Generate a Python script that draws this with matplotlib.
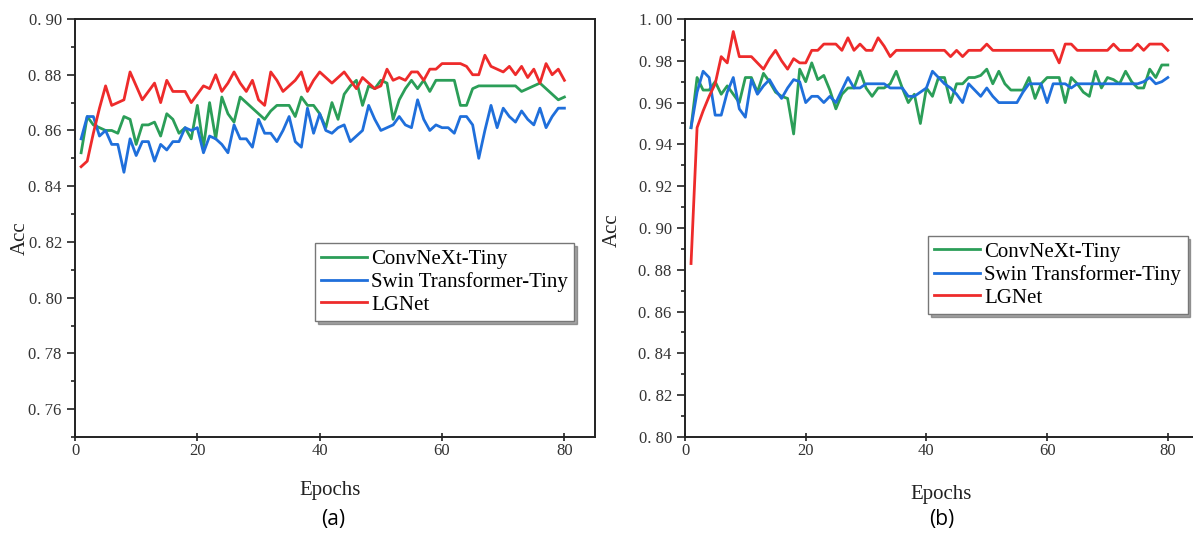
#!/usr/bin/env python
"""Validation accuracy curves of ConvNeXt-Tiny, Swin Transformer-Tiny and
LGNet on two datasets, panels (a) and (b)."""
import matplotlib
matplotlib.use('Agg')
import matplotlib.pyplot as plt
from matplotlib.ticker import MultipleLocator, FuncFormatter


# Data

epochs = list(range(1, 81))

# panel (a)
a_convnext = [0.852, 0.865, 0.862, 0.861, 0.860, 0.860, 0.859, 0.865, 0.864, 0.855,
              0.862, 0.862, 0.863, 0.858, 0.866, 0.864, 0.859, 0.861, 0.857, 0.869,
              0.854, 0.870, 0.857, 0.872, 0.866, 0.863, 0.872, 0.870, 0.868, 0.866,
              0.864, 0.867, 0.869, 0.869, 0.869, 0.865, 0.872, 0.869, 0.869, 0.866,
              0.861, 0.870, 0.864, 0.873, 0.876, 0.878, 0.869, 0.876, 0.875, 0.878,
              0.877, 0.864, 0.871, 0.875, 0.878, 0.875, 0.878, 0.874, 0.878, 0.878,
              0.878, 0.878, 0.869, 0.869, 0.875, 0.876, 0.876, 0.876, 0.876, 0.876,
              0.876, 0.876, 0.874, 0.875, 0.876, 0.877, 0.875, 0.873, 0.871, 0.872]
a_swin = [0.857, 0.865, 0.865, 0.858, 0.860, 0.855, 0.855, 0.845, 0.857, 0.851,
          0.856, 0.856, 0.849, 0.855, 0.853, 0.856, 0.856, 0.861, 0.860, 0.861,
          0.852, 0.858, 0.857, 0.855, 0.852, 0.862, 0.857, 0.857, 0.854, 0.864,
          0.859, 0.859, 0.856, 0.860, 0.865, 0.856, 0.854, 0.868, 0.859, 0.866,
          0.860, 0.859, 0.861, 0.862, 0.856, 0.858, 0.860, 0.869, 0.864, 0.860,
          0.861, 0.862, 0.865, 0.862, 0.861, 0.871, 0.864, 0.860, 0.862, 0.861,
          0.861, 0.859, 0.865, 0.865, 0.862, 0.850, 0.860, 0.869, 0.861, 0.868,
          0.865, 0.863, 0.867, 0.864, 0.862, 0.868, 0.861, 0.865, 0.868, 0.868]
a_lgnet = [0.847, 0.849, 0.859, 0.868, 0.876, 0.869, 0.870, 0.871, 0.881, 0.876,
           0.871, 0.874, 0.877, 0.870, 0.878, 0.874, 0.874, 0.874, 0.870, 0.873,
           0.876, 0.875, 0.880, 0.874, 0.877, 0.881, 0.877, 0.874, 0.878, 0.871,
           0.869, 0.881, 0.878, 0.874, 0.876, 0.878, 0.881, 0.874, 0.878, 0.881,
           0.879, 0.877, 0.879, 0.881, 0.878, 0.875, 0.879, 0.877, 0.875, 0.876,
           0.882, 0.878, 0.879, 0.878, 0.881, 0.881, 0.878, 0.882, 0.882, 0.884,
           0.884, 0.884, 0.884, 0.883, 0.880, 0.880, 0.887, 0.883, 0.882, 0.881,
           0.883, 0.880, 0.883, 0.879, 0.882, 0.877, 0.884, 0.880, 0.882, 0.878]

# panel (b)
b_convnext = [0.948, 0.972, 0.966, 0.966, 0.970, 0.964, 0.968, 0.964, 0.960, 0.972,
              0.972, 0.965, 0.974, 0.970, 0.965, 0.963, 0.962, 0.945, 0.976, 0.970,
              0.979, 0.971, 0.973, 0.966, 0.957, 0.964, 0.967, 0.967, 0.975, 0.967,
              0.963, 0.967, 0.967, 0.969, 0.975, 0.967, 0.960, 0.964, 0.950, 0.967,
              0.963, 0.972, 0.972, 0.960, 0.969, 0.969, 0.972, 0.972, 0.973, 0.976,
              0.969, 0.975, 0.969, 0.966, 0.966, 0.966, 0.972, 0.962, 0.969, 0.972,
              0.972, 0.972, 0.960, 0.972, 0.969, 0.965, 0.963, 0.975, 0.967, 0.972,
              0.971, 0.969, 0.975, 0.970, 0.967, 0.967, 0.976, 0.972, 0.978, 0.978]
b_swin = [0.948, 0.965, 0.975, 0.972, 0.954, 0.954, 0.965, 0.972, 0.957, 0.953,
          0.971, 0.964, 0.968, 0.971, 0.966, 0.962, 0.967, 0.971, 0.970, 0.960,
          0.963, 0.963, 0.960, 0.963, 0.960, 0.966, 0.972, 0.967, 0.967, 0.969,
          0.969, 0.969, 0.969, 0.967, 0.967, 0.967, 0.963, 0.963, 0.965, 0.967,
          0.975, 0.972, 0.969, 0.967, 0.964, 0.960, 0.969, 0.966, 0.963, 0.967,
          0.963, 0.960, 0.960, 0.960, 0.960, 0.965, 0.969, 0.969, 0.969, 0.960,
          0.969, 0.969, 0.969, 0.967, 0.969, 0.969, 0.969, 0.969, 0.969, 0.969,
          0.969, 0.969, 0.969, 0.969, 0.969, 0.970, 0.972, 0.969, 0.970, 0.972]
b_lgnet = [0.883, 0.948, 0.956, 0.963, 0.969, 0.982, 0.979, 0.994, 0.982, 0.982,
           0.982, 0.979, 0.976, 0.981, 0.985, 0.980, 0.976, 0.981, 0.979, 0.979,
           0.985, 0.985, 0.988, 0.988, 0.988, 0.985, 0.991, 0.985, 0.988, 0.985,
           0.985, 0.991, 0.987, 0.982, 0.985, 0.985, 0.985, 0.985, 0.985, 0.985,
           0.985, 0.985, 0.985, 0.982, 0.985, 0.982, 0.985, 0.985, 0.985, 0.988,
           0.985, 0.985, 0.985, 0.985, 0.985, 0.985, 0.985, 0.985, 0.985, 0.985,
           0.985, 0.979, 0.988, 0.988, 0.985, 0.985, 0.985, 0.985, 0.985, 0.985,
           0.988, 0.985, 0.985, 0.985, 0.988, 0.985, 0.988, 0.988, 0.988, 0.985]

labels = ['ConvNeXt-Tiny', 'Swin Transformer-Tiny', 'LGNet']
colors = ['#2b9e58', '#1f6fdb', '#ee2b2b']

SERIF = ['Liberation Serif', 'DejaVu Serif']


def style_axes(ax, ylo, yhi, yticks):
    ax.set_xlim(0, 85)
    ax.set_ylim(ylo, yhi)
    ax.xaxis.set_major_locator(MultipleLocator(20))
    ax.set_yticks(yticks)
    ax.yaxis.set_minor_locator(MultipleLocator(0.01))
    # the original renders "0.90" as "0. 90"
    ax.yaxis.set_major_formatter(FuncFormatter(lambda v, p: f'{v:.2f}'.replace('.', '. ')))
    ax.tick_params(which='both', direction='out', top=False, right=False,
                   width=1.2, color='#222222')
    ax.tick_params(which='major', length=6, labelsize=12, labelcolor='#333333')
    ax.tick_params(which='minor', length=3)
    ax.tick_params(axis='x', which='major', direction='inout', length=6, pad=1.5)
    for lab in ax.get_xticklabels() + ax.get_yticklabels():
        lab.set_family(SERIF)
    for sp in ax.spines.values():
        sp.set_linewidth(1.4)
        sp.set_color('#222222')
    ax.set_xlabel('Epochs', fontsize=15, family=SERIF, color='#222222')
    ax.set_ylabel('Acc', fontsize=15, family=SERIF, color='#222222')


fig = plt.figure(figsize=(11.93, 5.33), dpi=100)

ax_a = fig.add_axes([75 / 1193, 96 / 533, 520 / 1193, 418 / 533])
ax_b = fig.add_axes([685 / 1193, 96 / 533, 513 / 1193, 418 / 533])

for ax, series in ((ax_a, (a_convnext, a_swin, a_lgnet)),
                   (ax_b, (b_convnext, b_swin, b_lgnet))):
    for vals, lab, col in zip(series, labels, colors):
        ax.plot(epochs, vals, color=col, lw=2.0, label=lab)

style_axes(ax_a, 0.75, 0.90, [0.76 + 0.02 * i for i in range(8)])
style_axes(ax_b, 0.80, 1.00, [0.80 + 0.02 * i for i in range(11)])

ax_a.yaxis.set_label_coords(-0.087, 0.476)
ax_a.xaxis.set_label_coords(0.49, -0.105)
ax_b.yaxis.set_label_coords(-0.123, 0.495)
ax_b.xaxis.set_label_coords(0.50, -0.115)

for ax, anchor in ((ax_a, (0.4615, 0.464)), (ax_b, (0.474, 0.481))):
    leg = ax.legend(loc='upper left', bbox_to_anchor=anchor, borderaxespad=0,
                    prop={'family': SERIF, 'size': 15}, handlelength=2.2,
                    handletextpad=0.2, labelspacing=0.15, borderpad=0.3,
                    fancybox=False, shadow=True, framealpha=1)
    leg.get_frame().set_edgecolor('#777777')
    leg.get_frame().set_linewidth(1.0)

fig.text(333 / 1193, 1 - 519 / 533, '(a)', fontsize=15, ha='center', va='center',
         family='Open Sans')
fig.text(942 / 1193, 1 - 519 / 533, '(b)', fontsize=15, ha='center', va='center',
         family='Open Sans')

fig.savefig('out.png', dpi=100)
plt.close(fig)
